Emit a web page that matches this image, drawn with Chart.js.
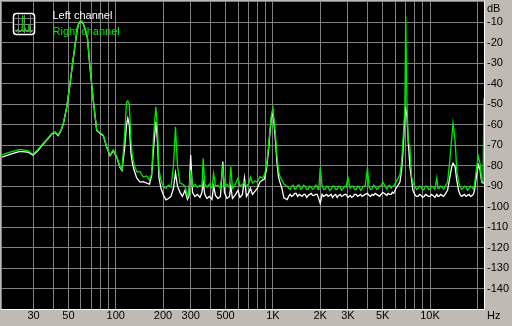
<!DOCTYPE html>
<html>
<head>
<meta charset="utf-8">
<title>Spectrum</title>
<style>
  html, body { margin: 0; padding: 0; background: #bfbbb4; }
  #wrap { width: 512px; height: 326px; }
</style>
<script src="https://cdn.jsdelivr.net/npm/chart.js@4.4.0/dist/chart.umd.min.js"></script>
</head>
<body>
<div id="wrap"><canvas id="spectrum" width="512" height="326"></canvas></div>
<script>
/* ---------------------------------------------------------
   Spectrum data (frequency in Hz, level in dB)
--------------------------------------------------------- */
const FREQ_HZ = [
  // below 130 Hz, mains hum at 60 / 120 Hz
  18.9, 21, 24.5, 27.5, 29.8, 32, 34.6, 37, 39.2, 41.1,
  43.1, 44.9, 46.4, 48.8, 51.2, 53.8, 56.5, 58, 59.5, 60.8,
  62.2, 63.8, 66, 68.6, 72, 75.7, 79.5, 83.4, 87.6, 92,
  96.5, 101.5, 106.5, 109.5, 113.7, 117.2, 119.4, 122, 125.1, 127.9,
  // 130 Hz .. 1.2 kHz
  130.7, 136, 142.7, 149.8, 157.4, 164, 169.4, 173.9, 180, 184.4,
  188.5, 194.1, 201.4, 208.9, 216.7, 224.7, 233.1, 240, 247.2, 256.4,
  265.9, 275.9, 286.1, 292.5, 300, 307.9, 319.3, 331.3, 343.6, 353.8,
  360, 368.6, 380.7, 394.9, 409.6, 420, 431.2, 447.2, 463.9, 480,
  491.9, 510.2, 529.3, 540, 553, 573.7, 600, 617.1, 640.2, 660,
  678.8, 704.1, 720, 741.2, 768.8, 797.5, 827.2, 858.1, 883.5, 909.7,
  936.8, 957.6, 978.8, 1000, 1015, 1038, 1061, 1085, 1109, 1142, 1175,
  // 1.2 kHz .. 8 kHz
  1233, 1260, 1288, 1317, 1346, 1376, 1407, 1438, 1470, 1503,
  1536, 1570, 1605, 1641, 1677, 1714, 1752, 1791, 1831, 1871,
  1913, 1938, 1964, 2000, 2058, 2104, 2151, 2199, 2247, 2297,
  2348, 2400, 2454, 2508, 2564, 2621, 2679, 2739, 2799, 2861,
  2925, 3000, 3101, 3170, 3241, 3313, 3386, 3461, 3538, 3617,
  3697, 3779, 3863, 4000, 4096, 4187, 4280, 4375, 4472, 4571,
  4673, 4777, 4883, 5000, 5215, 5312, 5410, 5530, 5653, 5758,
  5864, 5965, 6068, 6270, 6435, 6592, 6694, 6823, 6924, 7000,
  7130, 7265, 7448, 7638, 7784, 8017, 8200,
  // 8 kHz .. Nyquist
  8394, 8580, 8771, 8965, 9165, 9370, 9576, 9790, 10000, 10225,
  10455, 10740, 11040, 11230, 11415, 11670, 11930, 12190, 12460, 12930,
  13274, 13750, 14000, 14430, 14790, 15190, 15520, 15870, 16220, 16580,
  16950, 17330, 17710, 18100, 18510, 18850, 19200, 19830, 20300, 20810,
  21330, 21740, 22050,
];

const LEFT_DB = [
  -75.8, -74.6, -73, -73.3, -74.8, -72.6, -69.4, -66.8, -64.5, -63.7,
  -65.3, -62.8, -59.6, -51.5, -40.1, -27.1, -14.9, -10.8, -9.5, -9.6,
  -10.8, -13.3, -17.3, -32, -48.2, -62.8, -64.2, -65.3, -71, -75,
  -72.6, -75.8, -80.8, -82.3, -72, -60, -56.8, -60, -74, -79,

  -82, -86, -88, -87.8, -88.5, -89, -84.5, -72, -58.5, -68,
  -86, -91, -94.4, -96.7, -96, -95, -91, -83.5, -90, -93,
  -95, -92, -96.5, -95, -74.8, -93, -95, -94, -95.5, -93,
  -88, -94, -96, -95, -96.5, -90, -94.5, -96, -95, -78,
  -93, -96, -95, -90, -96, -94.5, -92, -95.5, -94, -86,
  -95, -93, -91, -94, -92.5, -91, -88, -87, -86.5, -82,
  -73, -64, -56.5, -53.6, -59, -67.4, -78, -85.3, -88, -91, -95.7,

  -96.5, -95, -94, -95, -94.5, -93.5, -93.5, -95, -94, -94.5,
  -95, -94, -94, -95.5, -94.5, -94, -93.5, -94.5, -94.5, -94,
  -94, -95, -95, -98.3, -94, -95, -94.5, -94, -95, -94.5,
  -94, -95.5, -94.5, -94, -95.5, -94.5, -94, -95, -94.5, -94,
  -94, -95.5, -94.5, -95.5, -95, -94, -94, -95, -94.5, -94,
  -95, -94.5, -94, -93.5, -94.5, -95, -94, -94.5, -93.5, -94,
  -94.5, -95, -94, -93, -94, -94.5, -93.5, -94, -94, -93,
  -93.5, -92.5, -91, -89.5, -88, -82, -75.6, -65, -54, -52,
  -56, -68, -80.4, -87, -92, -94.2, -95,

  -95, -94, -94.5, -95.5, -95, -94, -94.5, -95, -95, -94,
  -94.5, -95.5, -94, -95, -95, -94, -94.5, -95, -94, -92,
  -87, -80.4, -78.8, -80.4, -87, -92, -94, -95, -94.5, -94,
  -95, -94.5, -94, -95, -94.5, -94, -92, -84, -79.6, -82,
  -88, -88.5, -88,
];

const RIGHT_DB = [
  -74.7, -73.5, -72, -72.6, -74.4, -72, -69, -66.5, -64.2, -63.4,
  -65, -62.5, -59.3, -51.2, -39.8, -26.8, -14.6, -10.5, -9.2, -9.3,
  -10.5, -13, -17, -31.7, -47.9, -62.5, -63.9, -65, -70.7, -74.7,
  -72.3, -75.5, -80.5, -82, -66, -49, -48.3, -50, -68, -76,

  -79, -83, -82.9, -85.5, -85, -87, -84, -66, -51.2, -62,
  -82, -87, -90.5, -91, -89.5, -90.5, -80, -61, -80, -88.6,
  -89, -90, -95, -92, -82, -90, -89, -90.5, -89.5, -90,
  -76.4, -89, -90.5, -89, -91, -83.7, -90, -89.5, -91, -81,
  -90, -89, -90.5, -80.4, -91, -89.5, -86, -90, -89, -88,
  -90, -88.5, -85.5, -88.4, -87.5, -88, -85.3, -86, -84.5, -80.4,
  -71, -62.5, -55, -52, -57, -64.5, -75, -82, -85.3, -87, -89,

  -90, -91, -91.5, -90, -89.5, -91.5, -91, -89.5, -89.5, -91.5,
  -91, -89.5, -90, -91.5, -91.5, -90, -90.5, -91.5, -91, -89.5,
  -90, -91.5, -90.5, -80.9, -90, -91.5, -91.5, -90, -90.5, -92,
  -91.5, -90, -90, -91.5, -91.5, -90, -90.5, -92, -91, -90,
  -90.5, -85.6, -91, -90, -90, -91.5, -91.5, -90, -90.5, -92,
  -91, -90, -90, -81.2, -90.5, -91.5, -91, -89.5, -90, -91.5,
  -91, -90, -90, -87.8, -90.5, -91.5, -90, -89.5, -91, -90,
  -90, -89, -88, -86, -84.5, -78, -70, -60, -50.3, -7,
  -48, -68.2, -70.7, -85.3, -88.5, -90, -91.5,

  -91, -90, -90.5, -92, -91.5, -90, -90, -91.5, -91.5, -90,
  -90.5, -91.5, -86, -91, -91, -90, -90.5, -91.5, -90, -88,
  -79.6, -66.6, -59.3, -67.4, -82, -88, -90, -91.5, -91, -90,
  -90.5, -92, -91, -90, -90.5, -91.5, -89, -80, -75.5, -79,
  -87.5, -88, -47,
];

const SERIES_NAMES = ["Left channel", "Right channel"];

// vertical grid lines and the few that carry a label
const GRID_HZ = [30, 40, 50, 60, 70, 80, 90, 100, 200, 300, 400, 500, 600, 700, 800, 900,
  1000, 2000, 3000, 4000, 5000, 6000, 7000, 8000, 9000, 10000, 20000];
const HZ_LABELS = { 30: "30", 50: "50", 100: "100", 200: "200", 300: "300", 500: "500",
  1000: "1K", 2000: "2K", 3000: "3K", 5000: "5K", 10000: "10K" };
const DB_TICKS = [-10, -20, -30, -40, -50, -60, -70, -80, -90, -100, -110, -120, -130, -140];

/* ---------------------------------------------------------
   Look
--------------------------------------------------------- */
const FACE = "#bfbbb4";
const GRID_COLOR = "#808080";
const GREEN = "#00e800";
const FONT_FAMILY = '"Liberation Sans", Arial, sans-serif';
const FONT_CSS = "11px " + FONT_FAMILY;

function drawLegendIcon(ctx) {
  ctx.save();
  ctx.fillStyle = "#000";
  ctx.beginPath();
  ctx.roundRect(13.5, 13.5, 21, 21, 3);
  ctx.fill();

  ctx.strokeStyle = GRID_COLOR;
  ctx.lineWidth = 1;
  ctx.beginPath();
  [18.5, 24.5, 30.5].forEach((p) => {
    ctx.moveTo(p, 15); ctx.lineTo(p, 33);
    ctx.moveTo(15, p); ctx.lineTo(33, p);
  });
  ctx.stroke();

  ctx.strokeStyle = GREEN;
  ctx.beginPath();
  const trace = [[15.5, 31.5], [17, 31.5], [17.5, 29], [18, 31.5], [21, 31.5], [21.5, 29.5],
    [22, 31.5], [22.5, 15.5], [23, 31.5], [25, 31.5], [25.5, 28], [26, 31.5], [28.5, 31.5],
    [29, 24.5], [29.5, 31.5], [32.5, 31.5]];
  trace.forEach(([x, y], i) => (i ? ctx.lineTo(x, y) : ctx.moveTo(x, y)));
  ctx.stroke();

  ctx.strokeStyle = "#fff";
  ctx.lineWidth = 1.5;
  ctx.beginPath();
  ctx.roundRect(13.5, 13.5, 21, 21, 3);
  ctx.stroke();
  ctx.restore();
}

// panel background, sunken frame, legend and unit captions
const framePlugin = {
  id: "frame",
  beforeDraw(chart) {
    const { ctx, chartArea: a, width, height } = chart;
    ctx.save();
    ctx.fillStyle = FACE;
    ctx.fillRect(0, 0, width, height);
    ctx.fillStyle = "#000";
    ctx.fillRect(a.left, a.top, a.right - a.left, a.bottom - a.top);
    ctx.restore();
  },
  afterDraw(chart) {
    const { ctx, chartArea: a } = chart;
    ctx.save();
    ctx.fillStyle = GRID_COLOR;
    ctx.fillRect(a.left - 1, a.top - 1, a.right - a.left + 1, 1);
    ctx.fillRect(a.left - 1, a.top - 1, 1, a.bottom - a.top + 1);
    ctx.fillStyle = "#fff";
    ctx.fillRect(a.right, a.top - 1, 1, a.bottom - a.top + 2);
    ctx.fillRect(a.left - 1, a.bottom, a.right - a.left + 2, 1);

    drawLegendIcon(ctx);
    ctx.font = FONT_CSS;
    ctx.textBaseline = "alphabetic";
    ctx.textAlign = "left";
    ctx.fillStyle = "#fff";
    ctx.fillText(SERIES_NAMES[0], 52.5, 19);
    ctx.fillStyle = GREEN;
    ctx.fillText(SERIES_NAMES[1], 52.5, 35);

    ctx.fillStyle = "#000";
    ctx.textBaseline = "middle";
    ctx.fillText("dB", a.right + 3, 8.5);
    ctx.fillText("Hz", a.right + 3, 315.5);
    ctx.restore();
  },
};

/* ---------------------------------------------------------
   Chart
--------------------------------------------------------- */
const toPoints = (levels) => FREQ_HZ.map((f, i) => ({ x: f, y: levels[i] }));

new Chart(document.getElementById("spectrum"), {
  type: "line",
  data: {
    datasets: [
      {
        label: SERIES_NAMES[0],
        data: toPoints(LEFT_DB),
        borderColor: "#ffffff",
        borderWidth: 1.3,
        pointRadius: 0,
        tension: 0,
        order: 1,
      },
      {
        label: SERIES_NAMES[1],
        data: toPoints(RIGHT_DB),
        borderColor: GREEN,
        borderWidth: 1.3,
        pointRadius: 0,
        tension: 0,
        order: 0,
      },
    ],
  },
  options: {
    responsive: false,
    animation: false,
    events: [],
    layout: { padding: { left: 2, top: 2, right: 0, bottom: 0 } },
    plugins: { legend: { display: false }, tooltip: { enabled: false } },
    scales: {
      x: {
        type: "logarithmic",
        position: "bottom",
        min: 18.9,
        max: 22050,
        afterBuildTicks: (scale) => { scale.ticks = GRID_HZ.map((v) => ({ value: v })); },
        afterFit: (scale) => { scale.height = 17; scale.paddingLeft = 0; scale.paddingRight = 0; },
        grid: { color: GRID_COLOR, lineWidth: 1, drawTicks: false },
        border: { display: false },
        ticks: {
          autoSkip: false,
          maxRotation: 0,
          padding: 0,
          color: "#000",
          font: { family: FONT_FAMILY, size: 11 },
          callback: (v) => HZ_LABELS[v] || "",
        },
      },
      y: {
        type: "linear",
        position: "right",
        min: -150,
        max: 0,
        afterBuildTicks: (scale) => { scale.ticks = DB_TICKS.map((v) => ({ value: v })); },
        afterFit: (scale) => { scale.width = 28; scale.paddingTop = 0; scale.paddingBottom = 0; },
        grid: { color: GRID_COLOR, lineWidth: 1, drawTicks: false },
        border: { display: false },
        ticks: {
          padding: 3,
          color: "#000",
          font: { family: FONT_FAMILY, size: 11 },
          callback: (v) => String(v),
        },
      },
    },
  },
  plugins: [framePlugin],
});
</script>
</body>
</html>
